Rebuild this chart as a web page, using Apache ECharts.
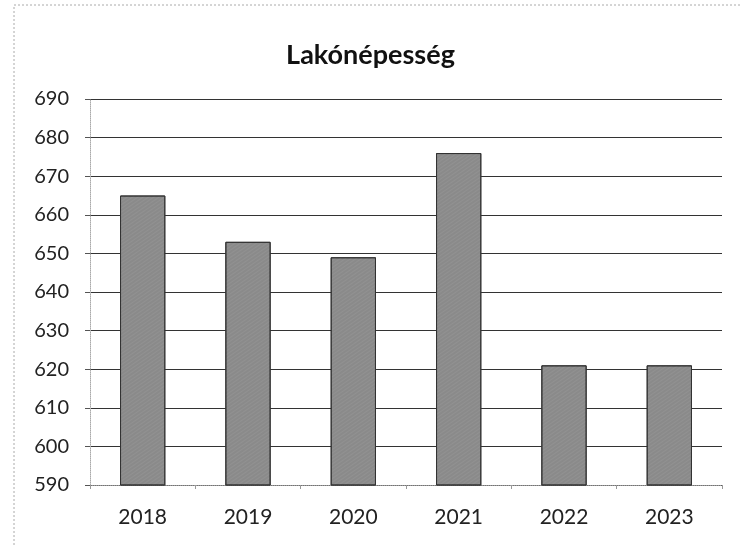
<!DOCTYPE html>
<html>
<head>
<meta charset="utf-8">
<script src="https://cdn.jsdelivr.net/npm/echarts@6/dist/echarts.min.js"></script>
<style>
  html, body { margin: 0; padding: 0; background: #fff; }
  #container { width: 741px; height: 545px; }
</style>
</head>
<body>
<div id="container"></div>
<script>
var years = ['2018', '2019', '2020', '2021', '2022', '2023'];
var population = [665, 653, 649, 676, 621, 621];
var yMin = 590, yMax = 690, yStep = 10;

var dom = document.getElementById('container');
var myChart = echarts.init(dom);
var font = 'Lato, "Open Sans", sans-serif';

var option = {
  animation: false,
  title: {
    text: 'Lakónépesség',
    left: 'center',
    top: 37,
    textStyle: { fontFamily: font, fontSize: 27, fontWeight: 'bold', color: '#111' }
  },
  grid: { left: 90, right: 19, top: 99, bottom: 60 },
  graphic: [{
    type: 'rect',
    shape: { x: 14, y: 5, width: 740, height: 560 },
    style: { fill: 'none', stroke: '#aaa', lineWidth: 1, lineDash: [2, 2] }
  }],
  xAxis: {
    type: 'category',
    data: years,
    axisLine: { lineStyle: { color: '#999', type: 'dotted' } },
    axisTick: { show: true, length: 4, lineStyle: { color: '#999' } },
    axisLabel: { fontFamily: font, fontSize: 21, color: '#222', margin: 22 }
  },
  yAxis: {
    type: 'value',
    min: yMin,
    max: yMax,
    interval: yStep,
    axisLine: { show: true, lineStyle: { color: '#aaa', type: 'dotted' } },
    axisTick: { show: true, length: 5, lineStyle: { color: '#555' } },
    axisLabel: { fontFamily: font, fontSize: 20, color: '#222', margin: 21 },
    splitLine: { lineStyle: { color: '#333', width: 1 } }
  },
  series: [{
    type: 'bar',
    data: population,
    barWidth: '43%',
    itemStyle: {
      color: '#8a8a8a',
      borderColor: '#333',
      borderWidth: 1,
      decal: {
        symbol: 'rect',
        symbolSize: 0.5,
        dashArrayX: [1, 0],
        dashArrayY: [1, 2],
        rotation: -0.6,
        color: 'rgba(255,255,255,0.25)'
      }
    }
  }]
};

myChart.setOption(option);
</script>
</body>
</html>
